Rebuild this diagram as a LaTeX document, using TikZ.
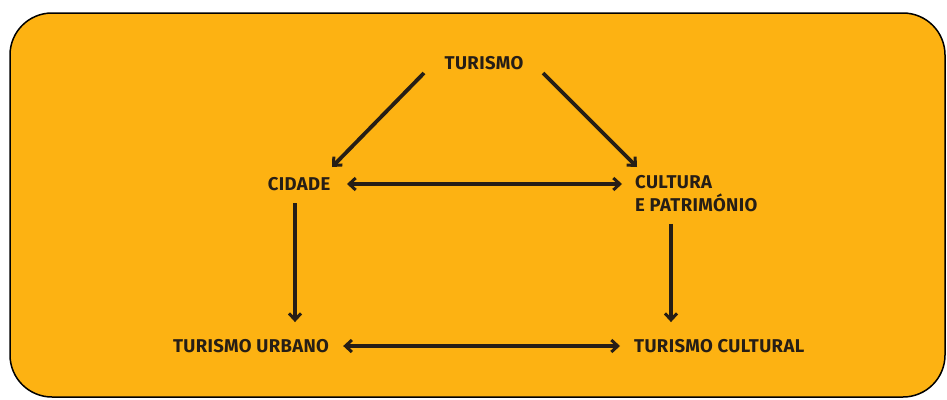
\documentclass[tikz,border=0pt]{standalone}
\usepackage{fontspec}
\setmainfont{Fira Sans}
\usetikzlibrary{arrows.meta}
\definecolor{boxorange}{RGB}{253,178,18}
\definecolor{ink}{RGB}{38,30,22}
\begin{document}
\begin{tikzpicture}[x=1pt,y=-1pt,
  lbl/.style={text=ink,font=\fontsize{18.5}{23}\selectfont\bfseries\addfontfeatures{LetterSpace=2},inner sep=0pt,align=left},
  tip/.tip={Straight Barb[length=6.5pt,width=12pt,line width=3pt]},
  arr/.style={draw=ink,line width=3.8pt,-tip},
  darr/.style={draw=ink,line width=3.8pt,tip-tip}]
\useasboundingbox (0,0) rectangle (947,399);
\draw[fill=boxorange,draw=black,line width=1.5pt,rounded corners=42pt] (10,13) rectangle (945,397);
\node[lbl] (tur) at (484,63) {TURISMO};
\node[lbl] (cid) at (299,184) {CIDADE};
\node[lbl,anchor=north west] (cul) at (635,175) {CULTURA\\E PATRIMÓNIO};
\node[lbl] (turb) at (251,346) {TURISMO URBANO};
\node[lbl,anchor=west] (tcul) at (634,346) {TURISMO CULTURAL};
% diagonal arrows
\draw[arr] ([xshift=-60pt,yshift=-10pt]tur.center) -- ([xshift=33pt,yshift=17pt]cid.center);
\draw[arr] ([xshift=59pt,yshift=-10pt]tur.center) -- ([xshift=2pt,yshift=8pt]cul.north west);
% horizontal arrows
\coordinate (h1e) at (cid.center -| cul.west);
\draw[darr] ([xshift=48pt]cid.center) -- ([xshift=-13pt]h1e);
\draw[darr] ([xshift=14pt]turb.east) -- ([xshift=-14pt]tcul.west);
% vertical arrows
\coordinate (v1e) at ([xshift=-4pt]cid.center |- turb.north);
\draw[arr] ([xshift=-4pt,yshift=-19pt]cid.center) -- ([yshift=17pt]v1e);
\coordinate (v2s) at ([xshift=36pt]cul.south west);
\coordinate (v2e) at (v2s |- tcul.north);
\draw[arr] ([yshift=-12pt]v2s) -- ([yshift=17pt]v2e);
\end{tikzpicture}
\end{document}
